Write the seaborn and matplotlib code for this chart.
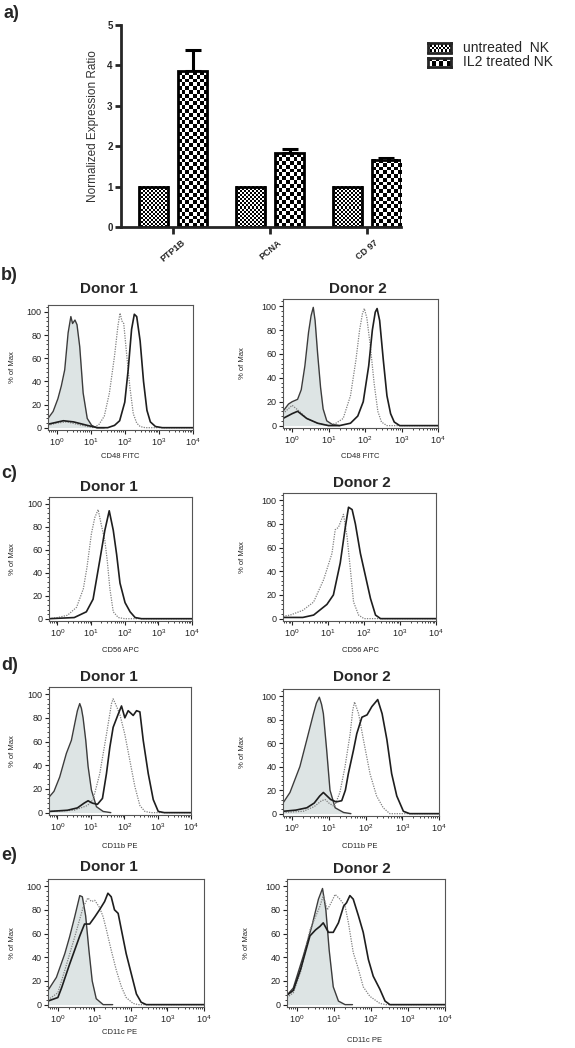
import numpy as np
import pandas as pd
import seaborn as sns
import matplotlib.pyplot as plt
from matplotlib.ticker import LogLocator, MultipleLocator, NullFormatter

sns.set_style("ticks")
plt.rcParams['font.family'] = ['Liberation Sans', 'DejaVu Sans']

# ---- panel a: qPCR ----
genes = ['PTP1B', 'PCNA', 'CD 97']
groups = ['untreated  NK', 'IL2 treated NK']
untreated_ratio = [1.0, 1.0, 1.0]
il2_ratio = [3.85, 1.82, 1.67]
il2_err = [0.52, 0.10, 0.05]

# ---- panels b-e: flow histograms, (log10 intensity, % of max) ----
cd48_d1_iso = ([-0.25, -0.1, 0.04, 0.14, 0.24, 0.34, 0.42, 0.47, 0.54, 0.6, 0.68, 0.78, 0.9, 1.03, 1.17, 1.4],
               [8, 14, 25, 36, 50, 82, 96, 90, 93, 89, 70, 30, 8, 2, 0, 0])
cd48_d1_untr = ([-0.25, 0.0, 0.3, 0.6, 0.9, 1.1, 1.25, 1.4, 1.55, 1.7, 1.8, 1.86, 1.92, 1.97, 2.05, 2.15, 2.25, 2.35, 2.45, 2.6, 4.0],
                [2, 4, 5, 3, 1, 0, 3, 10, 30, 62, 88, 99, 92, 90, 65, 35, 12, 4, 1, 0, 0])
cd48_d1_il2 = ([-0.25, 0.2, 0.5, 0.9, 1.2, 1.5, 1.7, 1.85, 2.0, 2.1, 2.2, 2.28, 2.35, 2.45, 2.55, 2.65, 2.75, 2.9, 3.1, 4.0],
               [3, 6, 5, 2, 0, 0, 2, 6, 22, 50, 85, 98, 96, 75, 40, 15, 5, 1, 0, 0])

cd48_d2_iso = ([-0.25, -0.1, 0.0, 0.15, 0.25, 0.35, 0.45, 0.52, 0.58, 0.63, 0.7, 0.78, 0.85, 0.95, 1.1, 1.3],
               [12, 18, 20, 22, 30, 50, 78, 92, 99, 88, 60, 32, 14, 4, 1, 0])
cd48_d2_untr = ([-0.25, 0.0, 0.2, 0.4, 0.7, 1.0, 1.2, 1.4, 1.6, 1.75, 1.85, 1.93, 1.98, 2.05, 2.15, 2.25, 2.35, 2.45, 2.6, 4.0],
                [10, 17, 12, 6, 2, 0, 2, 6, 25, 55, 80, 94, 98, 90, 65, 35, 12, 3, 0, 0])
cd48_d2_il2 = ([-0.25, 0.0, 0.15, 0.4, 0.7, 1.0, 1.3, 1.6, 1.8, 1.95, 2.1, 2.2, 2.28, 2.33, 2.4, 2.5, 2.6, 2.7, 2.8, 2.95, 4.0],
               [6, 10, 12, 6, 2, 0, 0, 2, 8, 20, 50, 80, 95, 98, 88, 55, 25, 10, 3, 0, 0])

cd56_d1_untr = ([-0.25, 0.0, 0.3, 0.57, 0.77, 0.88, 1.01, 1.11, 1.21, 1.31, 1.41, 1.48, 1.56, 1.66, 1.81, 2.0, 4.0],
                [0, 1, 3, 10, 26, 45, 74, 88, 95, 81, 68, 51, 26, 6, 1, 0, 0])
cd56_d1_il2 = ([-0.25, 0.5, 0.86, 1.06, 1.26, 1.41, 1.54, 1.66, 1.76, 1.86, 2.01, 2.16, 2.31, 2.5, 4.0],
               [0, 1, 6, 17, 51, 77, 94, 77, 56, 31, 14, 6, 1, 0, 0])

cd56_d2_untr = ([-0.25, -0.05, 0.3, 0.6, 0.88, 1.11, 1.2, 1.29, 1.43, 1.53, 1.62, 1.71, 1.85, 2.0, 4.0],
                [2, 3, 7, 14, 33, 55, 75, 77, 88, 69, 42, 14, 3, 0, 0])
cd56_d2_il2 = ([-0.25, 0.3, 0.6, 0.97, 1.15, 1.34, 1.48, 1.57, 1.67, 1.76, 1.9, 2.04, 2.18, 2.32, 2.46, 4.0],
               [1, 1, 3, 12, 20, 47, 77, 94, 92, 80, 55, 36, 17, 3, 0, 0])

cd11b_d1_iso = ([-0.25, -0.1, 0.07, 0.27, 0.42, 0.52, 0.6, 0.67, 0.72, 0.77, 0.85, 0.92, 1.02, 1.17, 1.37, 1.6],
                [13, 18, 30, 50, 61, 75, 86, 92, 88, 80, 61, 39, 19, 5, 1, 0])
cd11b_d1_untr = ([-0.25, 0.5, 0.9, 1.07, 1.27, 1.47, 1.62, 1.67, 1.72, 1.87, 2.02, 2.17, 2.32, 2.47, 2.62, 2.8, 4.0],
                 [1, 2, 6, 11, 33, 66, 92, 96, 93, 83, 66, 44, 22, 6, 1, 0, 0])
cd11b_d1_il2 = ([-0.25, 0.3, 0.6, 0.8, 0.92, 1.05, 1.2, 1.35, 1.47, 1.57, 1.67, 1.82, 1.92, 2.02, 2.12, 2.27, 2.37,
                 2.47, 2.57, 2.72, 2.87, 3.02, 3.2, 4.0],
                [1, 2, 4, 8, 10, 8, 7, 12, 33, 55, 72, 83, 90, 80, 86, 82, 86, 85, 61, 33, 11, 1, 0, 0])

cd11b_d2_iso = ([-0.25, -0.06, 0.21, 0.4, 0.58, 0.66, 0.74, 0.8, 0.85, 0.94, 1.03, 1.17, 1.4, 1.6],
                [9, 18, 40, 63, 85, 94, 99, 93, 85, 54, 20, 5, 1, 0])
cd11b_d2_untr = ([-0.25, 0.3, 0.6, 0.8, 0.9, 1.0, 1.15, 1.3, 1.44, 1.58, 1.65, 1.7, 1.81, 1.94, 2.12, 2.3, 2.48, 2.66, 4.0],
                 [1, 2, 6, 11, 12, 9, 6, 18, 40, 68, 88, 95, 85, 63, 34, 15, 5, 0, 0])
cd11b_d2_il2 = ([-0.25, 0.1, 0.4, 0.6, 0.75, 0.85, 0.95, 1.05, 1.2, 1.35, 1.45, 1.53, 1.67, 1.76, 1.9, 2.04, 2.17,
                 2.33, 2.45, 2.58, 2.71, 2.85, 3.03, 3.2, 4.0],
                [2, 3, 5, 9, 15, 18, 15, 12, 10, 11, 20, 34, 54, 68, 82, 84, 91, 97, 85, 63, 34, 15, 2, 0, 0])

cd11c_d1_iso = ([-0.27, -0.04, 0.19, 0.32, 0.46, 0.6, 0.67, 0.76, 0.85, 0.94, 1.05, 1.24, 1.5],
                [12, 23, 43, 57, 74, 92, 91, 75, 46, 20, 5, 0, 0])
cd11c_d1_untr = ([-0.27, 0.0, 0.2, 0.46, 0.69, 0.82, 0.92, 1.01, 1.14, 1.24, 1.33, 1.46, 1.6, 1.74, 1.87, 2.06, 2.2, 4.0],
                 [4, 10, 30, 57, 82, 90, 87, 88, 82, 74, 63, 46, 29, 15, 6, 1, 0, 0])
cd11c_d1_il2 = ([-0.27, 0.0, 0.1, 0.32, 0.46, 0.6, 0.73, 0.87, 1.01, 1.14, 1.28, 1.37, 1.46, 1.55, 1.65, 1.74, 1.87,
                 2.01, 2.15, 2.28, 2.42, 4.0],
                [3, 6, 14, 34, 46, 58, 68, 68, 74, 80, 87, 94, 91, 80, 77, 63, 43, 26, 9, 2, 0, 0])

cd11c_d2_iso = ([-0.27, -0.1, 0.17, 0.4, 0.58, 0.69, 0.78, 0.87, 0.98, 1.12, 1.3, 1.5],
                [8, 14, 41, 66, 89, 98, 80, 46, 15, 3, 0, 0])
cd11c_d2_untr = ([-0.27, -0.1, 0.1, 0.35, 0.62, 0.71, 0.82, 0.94, 1.03, 1.16, 1.3, 1.39, 1.52, 1.66, 1.79, 1.97, 2.24, 2.4, 4.0],
                 [6, 10, 28, 63, 83, 92, 80, 87, 93, 89, 83, 69, 44, 30, 15, 7, 1, 0, 0])
cd11c_d2_il2 = ([-0.27, -0.1, 0.1, 0.35, 0.5, 0.62, 0.71, 0.85, 0.98, 1.12, 1.26, 1.34, 1.43, 1.52, 1.66, 1.79, 1.93,
                 2.06, 2.24, 2.38, 2.51, 4.0],
                [8, 12, 30, 58, 63, 66, 69, 61, 61, 69, 83, 86, 92, 89, 75, 61, 38, 24, 13, 3, 0, 0])

W, H = 575, 1048
fig = plt.figure(figsize=(W / 100, H / 100), dpi=100)


def box(l, t, r, b):
    return [l / W, 1 - b / H, (r - l) / W, (b - t) / H]


def checker(n_y, n_x):
    return np.add.outer(np.arange(n_y), np.arange(n_x)) % 2


def checker_fill(ax, bar, square_px):
    x0, y0, w, h = bar.get_x(), bar.get_y(), bar.get_width(), bar.get_height()
    p0 = ax.transData.transform((x0, y0))
    p1 = ax.transData.transform((x0 + w, y0 + h))
    nx = max(1, int(round((p1[0] - p0[0]) / square_px)))
    ny = max(1, int(round((p1[1] - p0[1]) / square_px)))
    ax.imshow(checker(ny, nx), cmap='gray', vmin=0, vmax=1, extent=(x0, x0 + w, y0, y0 + h),
              interpolation='nearest', aspect='auto', zorder=1.5)


# ---------------- panel a ----------------
ax = fig.add_axes(box(121, 25, 401, 227))
df = pd.DataFrame({'gene': genes * 2,
                   'group': [groups[0]] * 3 + [groups[1]] * 3,
                   'ratio': untreated_ratio + il2_ratio})
sns.barplot(data=df, x='gene', y='ratio', hue='group', hue_order=groups, width=0.8, gap=0.25,
            errorbar=None, legend=False, ax=ax)
ax.set_xlim(-0.54, 2.35)
ax.set_ylim(0, 5)
bars = sorted(ax.patches, key=lambda p: p.get_x())
for i, bar in enumerate(bars):
    checker_fill(ax, bar, 2.0 if i % 2 == 0 else 3.8)
    bar.set_facecolor('none')
    bar.set_edgecolor('black')
    bar.set_linewidth(2)
    bar.set_zorder(2)
il2_bars = bars[1::2]
ax.errorbar([b.get_x() + b.get_width() / 2 for b in il2_bars], il2_ratio,
            yerr=[[0, 0, 0], il2_err], fmt='none', ecolor='black', elinewidth=2.2,
            capsize=6, capthick=2.2, zorder=1)
ax.set_xlim(-0.54, 2.35)
ax.set_ylim(0, 5)
sns.despine(ax=ax)
ax.spines['left'].set_linewidth(2)
ax.spines['bottom'].set_linewidth(2)
ax.set_yticks([0, 1, 2, 3, 4, 5])
ax.set_xticks([0, 1, 2])
ax.set_xticklabels(genes, rotation=40, ha='center', fontsize=6.5, fontweight='bold')
for lbl in ax.get_yticklabels():
    lbl.set_fontweight('bold')
ax.tick_params(axis='y', labelsize=7, length=4, width=2, pad=2)
ax.tick_params(axis='x', length=5, width=2, pad=3)
ax.set_xlabel('')
ax.set_ylabel('Normalized Expression Ratio', fontsize=8.5, color='#333333', labelpad=6)

# legend
for ly, label, sq in [(48, groups[0], 2.0), (62, groups[1], 3.6)]:
    lax = fig.add_axes(box(428, ly - 4.5, 451, ly + 4.5))
    lax.imshow(checker(int(round(9 / sq)), int(round(23 / sq))),
               cmap='gray', vmin=0, vmax=1, interpolation='nearest', aspect='auto')
    lax.set_xticks([])
    lax.set_yticks([])
    for s in lax.spines.values():
        s.set_linewidth(2)
    fig.text(463 / W, 1 - ly / H, label, fontsize=10, va='center', ha='left')

fig.text(3 / W, 1 - 13 / H, 'a)', fontsize=13, fontweight='bold', va='center')


# ---------------- flow panels ----------------
def flow_panel(rect, iso, untr, il2, title, title_xy, xlabel, xlabel_xy, ylabel_x, xmin=-0.25):
    ax = fig.add_axes(box(*rect))
    ax.set_xscale('log')
    if iso is not None:
        ix = 10 ** np.array(iso[0])
        ax.fill_between(ix, iso[1], color='#dde4e4', zorder=1, linewidth=0)
        sns.lineplot(x=ix, y=iso[1], color='#3c3c3c', linewidth=1.0, estimator=None, sort=False, ax=ax)
    sns.lineplot(x=10 ** np.array(untr[0]), y=untr[1], color='#808080', linewidth=0.9,
                 linestyle=(0, (1, 1)), estimator=None, sort=False, ax=ax)
    sns.lineplot(x=10 ** np.array(il2[0]), y=il2[1], color='#1e1e1e', linewidth=1.2,
                 estimator=None, sort=False, ax=ax)
    ax.set_xlim(10 ** xmin, 1e4)
    ax.set_ylim(-2, 106)
    ax.xaxis.set_major_locator(LogLocator(base=10, numticks=10))
    ax.xaxis.set_minor_locator(LogLocator(base=10, subs=np.arange(2, 10), numticks=20))
    ax.xaxis.set_minor_formatter(NullFormatter())
    ax.yaxis.set_major_locator(MultipleLocator(20))
    ax.yaxis.set_minor_locator(MultipleLocator(4))
    ax.tick_params(which='major', labelsize=6.5, direction='out', length=3, width=0.8, pad=1.5, colors='#222222')
    ax.tick_params(which='minor', direction='out', length=1.6, width=0.6, colors='#222222')
    for s in ax.spines.values():
        s.set_linewidth(0.8)
        s.set_color('#555555')
    ax.set_xlabel('')
    ax.set_ylabel('')
    fig.text(title_xy[0] / W, 1 - title_xy[1] / H, title, fontsize=11, fontweight='bold', ha='center', va='center')
    fig.text(xlabel_xy[0] / W, 1 - xlabel_xy[1] / H, xlabel, fontsize=5.5, ha='center', va='center')
    fig.text(ylabel_x / W, 1 - (rect[1] + rect[3]) / 2 / H, '% of Max', fontsize=5.5, rotation=90,
             ha='center', va='center')
    return ax


flow_panel((48, 305, 193, 430), cd48_d1_iso, cd48_d1_untr, cd48_d1_il2, 'Donor 1', (109, 289),
           'CD48 FITC', (120, 457), 13)
flow_panel((283, 299, 438, 428), cd48_d2_iso, cd48_d2_untr, cd48_d2_il2, 'Donor 2', (358, 289),
           'CD48 FITC', (360, 457), 242)
flow_panel((49, 497, 192, 621), None, cd56_d1_untr, cd56_d1_il2, 'Donor 1', (109, 487),
           'CD56 APC', (120, 650), 13)
flow_panel((283, 493, 436, 621), None, cd56_d2_untr, cd56_d2_il2, 'Donor 2', (362, 483),
           'CD56 APC', (360, 650), 242)
flow_panel((49, 687, 191, 815), cd11b_d1_iso, cd11b_d1_untr, cd11b_d1_il2, 'Donor 1', (109, 677),
           'CD11b PE', (120, 847), 13)
flow_panel((283, 689, 439, 816), cd11b_d2_iso, cd11b_d2_untr, cd11b_d2_il2, 'Donor 2', (362, 677),
           'CD11b PE', (360, 847), 242)
flow_panel((48, 879, 204, 1007), cd11c_d1_iso, cd11c_d1_untr, cd11c_d1_il2, 'Donor 1', (109, 867),
           'CD11c PE', (120, 1033), 13, xmin=-0.27)
flow_panel((287, 879, 445, 1007), cd11c_d2_iso, cd11c_d2_untr, cd11c_d2_il2, 'Donor 2', (362, 869),
           'CD11c PE', (365, 1040), 247, xmin=-0.27)

for letter, y in [('b)', 275), ('c)', 473), ('d)', 665), ('e)', 855)]:
    fig.text(1 / W, 1 - y / H, letter, fontsize=13, fontweight='bold', va='center')

fig.savefig('out.png', dpi=100)
